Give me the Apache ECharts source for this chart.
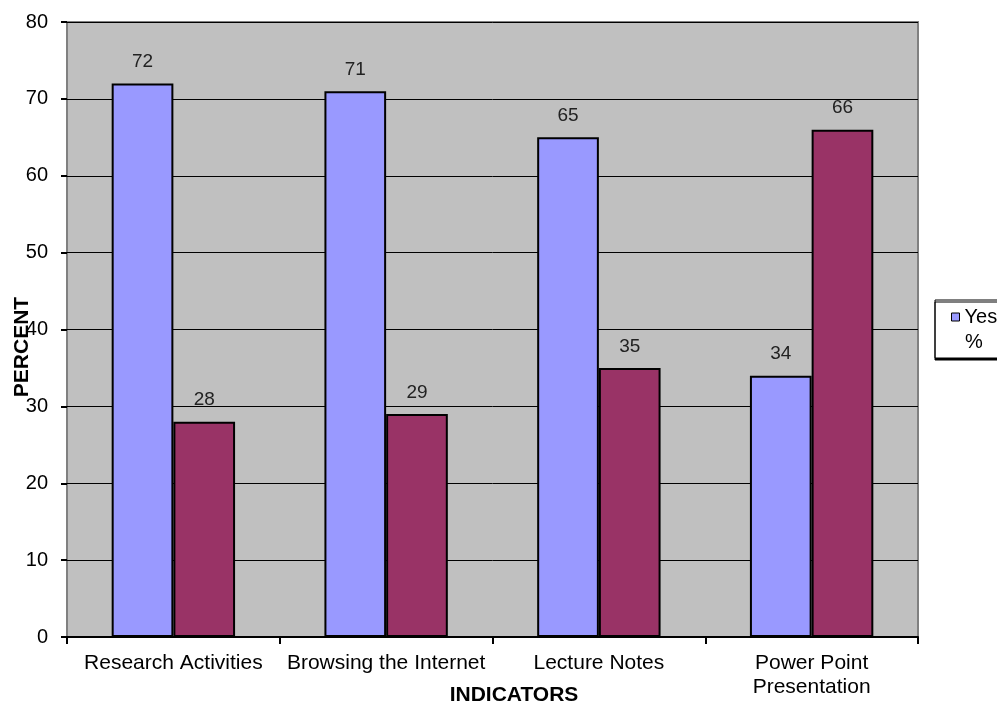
<!DOCTYPE html>
<html>
<head>
<meta charset="utf-8">
<script src="https://cdn.jsdelivr.net/npm/echarts@6/dist/echarts.min.js"></script>
<style>
  html, body { margin: 0; padding: 0; background: #fff; }
  #chart { width: 997px; height: 704px; }
</style>
</head>
<body>
<div id="chart"></div>
<script>
// Usage indicators: share of respondents answering Yes / No
const categories = ['Research Activities', 'Browsing the Internet', 'Lecture Notes', 'Power Point\nPresentation'];
const yesValues = [72, 71, 65, 34];
const noValues = [28, 29, 35, 66];
const yTicks = [0, 10, 20, 30, 40, 50, 60, 70, 80];

const FONT = "'Liberation Sans', Arial, sans-serif";
const chart = echarts.init(document.getElementById('chart'));

const barLabel = {
  show: true,
  position: 'top',
  distance: 12,
  color: '#222',
  fontFamily: FONT,
  fontSize: 19
};

chart.setOption({
  animation: false,
  backgroundColor: '#ffffff',
  grid: {
    left: 67, right: 79, top: 22, bottom: 67,
    show: true,
    backgroundColor: '#c0c0c0',
    borderColor: '#808080',
    borderWidth: 2
  },
  legend: {
    orient: 'horizontal',
    left: 935,
    top: 300,
    width: 400,
    data: ['Yes %', 'No %'],
    itemWidth: 8,
    itemHeight: 8,
    itemGap: 40,
    icon: 'rect',
    padding: [7, 14, 31, 16],
    borderColor: '#000',
    borderWidth: 1,
    backgroundColor: '#fff',
    shadowColor: '#000',
    shadowOffsetY: 2,
    shadowBlur: 0,
    itemStyle: { borderColor: '#000', borderWidth: 1 },
    formatter: name => name.split(' ')[0],
    textStyle: { fontFamily: FONT, fontSize: 20, color: '#000' }
  },
  xAxis: {
    type: 'category',
    data: categories,
    axisLine: { show: true, lineStyle: { color: '#000', width: 2 } },
    axisTick: { show: true, interval: 0, length: 7, lineStyle: { color: '#000', width: 2 } },
    axisLabel: {
      interval: 0,
      color: '#000', fontFamily: FONT, fontSize: 21, margin: 14, lineHeight: 24
    }
  },
  yAxis: {
    type: 'value',
    min: yTicks[0],
    max: yTicks[yTicks.length - 1],
    interval: 10,
    axisLine: { show: false },
    axisTick: { show: true, length: 6, lineStyle: { color: '#000', width: 2 } },
    axisLabel: { color: '#000', fontFamily: FONT, fontSize: 20, margin: 19 },
    splitLine: { show: true, lineStyle: { color: '#000', width: 1 } }
  },
  graphic: [
    {
      type: 'text',
      x: 22, y: 347,
      rotation: Math.PI / 2,
      style: {
        text: 'PERCENT', fill: '#000', font: "bold 21px " + FONT,
        textAlign: 'center', textVerticalAlign: 'middle'
      }
    },
    {
      type: 'text',
      x: 514, y: 695,
      style: {
        text: 'INDICATORS', fill: '#000', font: "bold 21px " + FONT,
        textAlign: 'center', textVerticalAlign: 'middle'
      }
    },
    {
      // second line of the "Yes %" legend entry
      type: 'text',
      x: 974, y: 342,
      z: 100,
      style: {
        text: '%', fill: '#000', font: "20px " + FONT,
        textAlign: 'center', textVerticalAlign: 'middle'
      }
    }
  ],
  series: [
    {
      name: 'Yes %',
      type: 'bar',
      data: yesValues,
      barWidth: '29%',
      barGap: '0%',
      itemStyle: { color: '#9999ff', borderColor: '#000', borderWidth: 2 },
      label: barLabel
    },
    {
      name: 'No %',
      type: 'bar',
      data: noValues,
      barWidth: '29%',
      itemStyle: { color: '#993366', borderColor: '#000', borderWidth: 2 },
      label: barLabel
    }
  ]
});
</script>
</body>
</html>
